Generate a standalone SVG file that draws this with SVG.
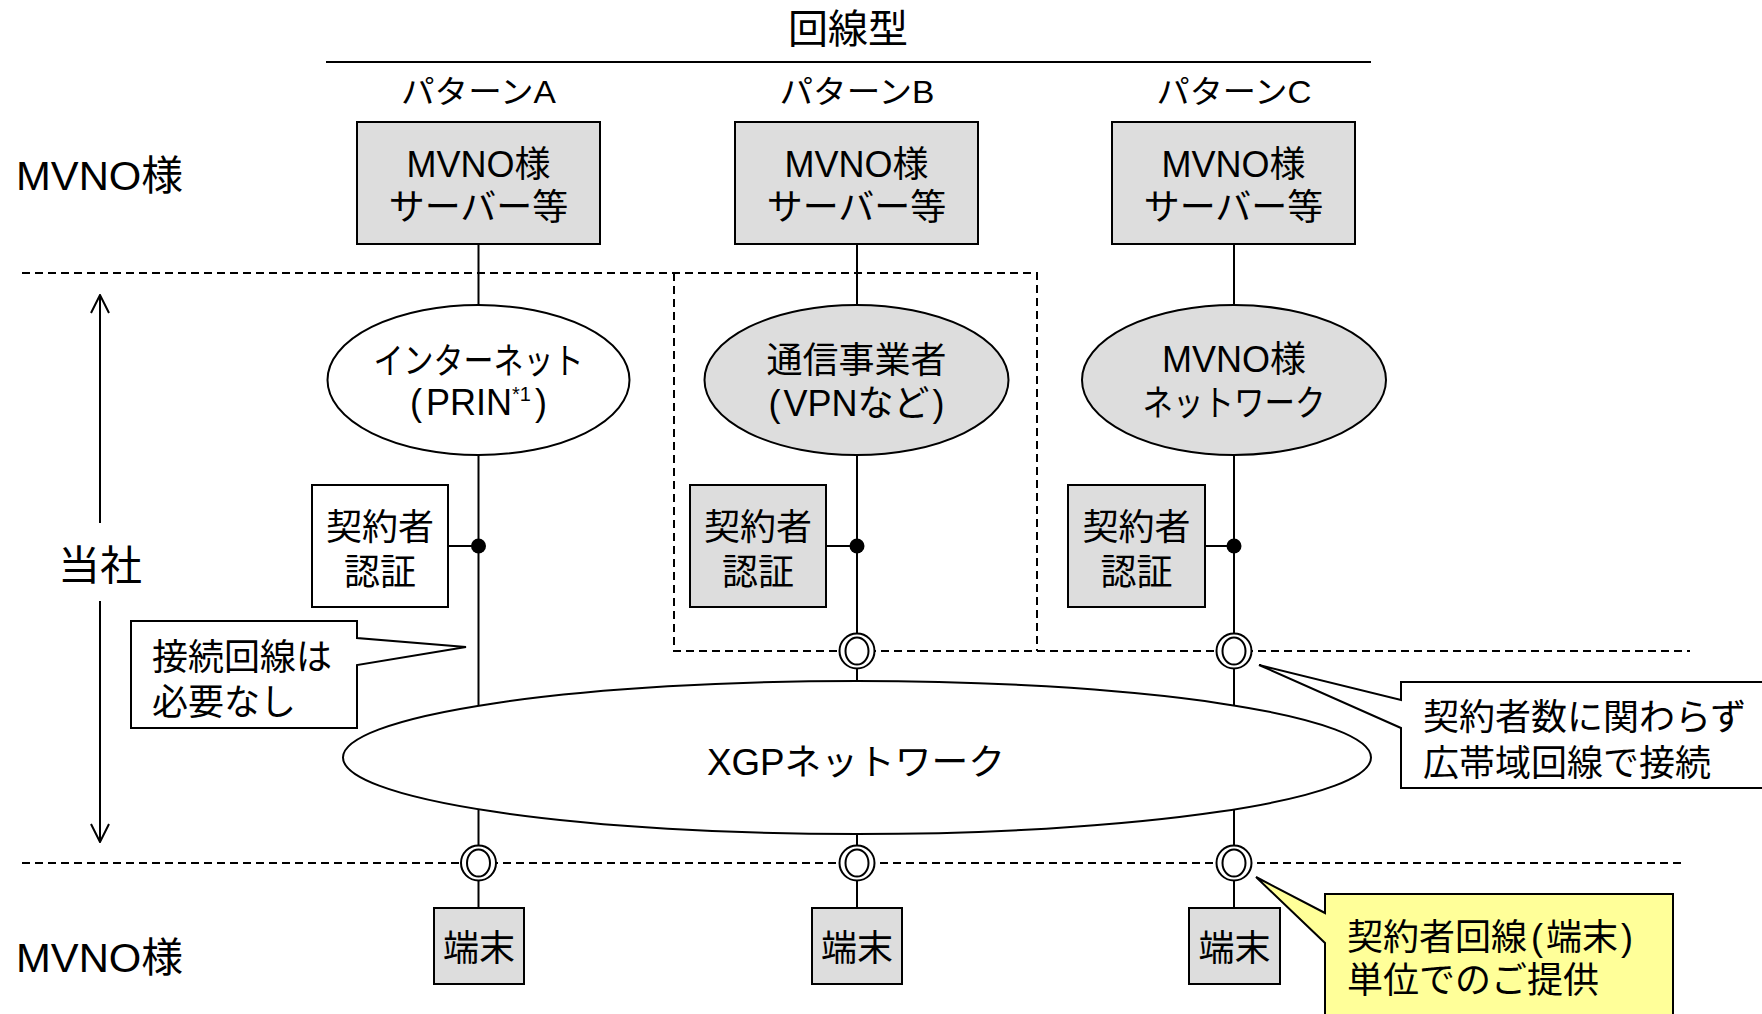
<svg xmlns="http://www.w3.org/2000/svg" width="1762" height="1014" viewBox="0 0 1762 1014">
<defs>
<style>
text{font-family:"Liberation Sans","Noto Sans CJK JP",sans-serif;fill:#000;}
.t36{font-size:36px;}
.t32{font-size:32px;}
.t41{font-size:41px;}
.mid{text-anchor:middle;}
.box{fill:#dddddd;stroke:#000;stroke-width:2;}
.wbox{fill:#fff;stroke:#000;stroke-width:2;}
.ln{stroke:#000;stroke-width:2;fill:none;}
.dash{stroke:#000;stroke-width:2;fill:none;stroke-dasharray:8 5;}
.ybox{fill:#ffff99;stroke:#000;stroke-width:2;}
</style>
<marker id="arr" viewBox="0 0 20 20" refX="19" refY="10" markerWidth="20" markerHeight="20" markerUnits="userSpaceOnUse" orient="auto">
<path d="M1,1 L19,10 L1,19" fill="none" stroke="#000" stroke-width="2"/>
</marker>
<g id="port">
<circle r="17.5" fill="#fff" stroke="#000" stroke-width="2"/>
<ellipse rx="11.5" ry="13.5" fill="none" stroke="#000" stroke-width="2"/>
</g>
</defs>

<rect width="1762" height="1014" fill="#fff"/>

<g id="header">
<text class="mid" x="848" y="43" font-size="40">回線型</text>
<line class="ln" x1="326" y1="62" x2="1371" y2="62"/>
<text class="t32 mid" x="478.5" y="103" textLength="155" lengthAdjust="spacingAndGlyphs">パターンA</text>
<text class="t32 mid" x="857" y="103" textLength="155" lengthAdjust="spacingAndGlyphs">パターンB</text>
<text class="t32 mid" x="1234" y="103" textLength="155" lengthAdjust="spacingAndGlyphs">パターンC</text>
</g>

<g id="side-labels">
<text class="t41" x="16" y="190" textLength="167" lengthAdjust="spacingAndGlyphs">MVNO様</text>
<text class="t41" x="58" y="580" textLength="84" lengthAdjust="spacingAndGlyphs">当社</text>
<text class="t41" x="16" y="972" textLength="167" lengthAdjust="spacingAndGlyphs">MVNO様</text>
<line class="ln" x1="100" y1="523" x2="100" y2="295" marker-end="url(#arr)"/>
<line class="ln" x1="100" y1="601" x2="100" y2="842" marker-end="url(#arr)"/>
</g>

<g id="boundaries">
<path class="dash" d="M22,273 H1037 V651"/>
<path class="dash" d="M674,273 V651 H1690"/>
<line class="dash" x1="22" y1="863" x2="1686" y2="863"/>
</g>

<g id="connectors">
<line class="ln" x1="478.5" y1="244" x2="478.5" y2="305"/>
<line class="ln" x1="478.5" y1="455" x2="478.5" y2="710"/>
<line class="ln" x1="448" y1="546" x2="478.5" y2="546"/>
<circle cx="478.5" cy="546" r="7.5" fill="#000"/>
<line class="ln" x1="857" y1="244" x2="857" y2="305"/>
<line class="ln" x1="857" y1="455" x2="857" y2="690"/>
<line class="ln" x1="826" y1="546" x2="857" y2="546"/>
<circle cx="857" cy="546" r="7.5" fill="#000"/>
<line class="ln" x1="1234" y1="244" x2="1234" y2="305"/>
<line class="ln" x1="1234" y1="455" x2="1234" y2="710"/>
<line class="ln" x1="1205" y1="546" x2="1234" y2="546"/>
<circle cx="1234" cy="546" r="7.5" fill="#000"/>
<line class="ln" x1="478.5" y1="800" x2="478.5" y2="908"/>
<line class="ln" x1="857" y1="825" x2="857" y2="908"/>
<line class="ln" x1="1234" y1="800" x2="1234" y2="908"/>
</g>

<g id="server-a">
<rect class="box" x="357" y="122" width="243" height="122"/>
<text class="t36 mid" x="478.5" y="177">MVNO様</text>
<text class="t36 mid" x="478.5" y="220">サーバー等</text>
</g>
<g id="server-b">
<rect class="box" x="735" y="122" width="243" height="122"/>
<text class="t36 mid" x="856.5" y="177">MVNO様</text>
<text class="t36 mid" x="856.5" y="220">サーバー等</text>
</g>
<g id="server-c">
<rect class="box" x="1112" y="122" width="243" height="122"/>
<text class="t36 mid" x="1233.5" y="177">MVNO様</text>
<text class="t36 mid" x="1233.5" y="220">サーバー等</text>
</g>

<g id="internet">
<ellipse class="wbox" cx="478.5" cy="380" rx="151" ry="75"/>
<text class="t36 mid" x="478.5" y="374" textLength="210" lengthAdjust="spacingAndGlyphs">インターネット</text>
<text class="t36 mid" x="478.5" y="415">(<tspan dx="4">PRIN</tspan><tspan font-size="20" dy="-14">*1</tspan><tspan dx="4" dy="14">)</tspan></text>
</g>
<g id="carrier">
<ellipse class="box" cx="856.5" cy="380" rx="152" ry="75"/>
<text class="t36 mid" x="856.5" y="373">通信事業者</text>
<text class="t36 mid" x="856.5" y="416">(<tspan dx="3">VPNなど</tspan><tspan dx="3">)</tspan></text>
</g>
<g id="mvno-network">
<ellipse class="box" cx="1234" cy="380" rx="152" ry="75"/>
<text class="t36 mid" x="1234" y="372">MVNO様</text>
<text class="t36 mid" x="1234" y="416" textLength="183" lengthAdjust="spacingAndGlyphs">ネットワーク</text>
</g>

<g id="auth-a">
<rect class="wbox" x="312" y="485" width="136" height="122"/>
<text class="t36 mid" x="380" y="540">契約者</text>
<text class="t36 mid" x="380" y="585">認証</text>
</g>
<g id="auth-b">
<rect class="box" x="690" y="485" width="136" height="122"/>
<text class="t36 mid" x="758" y="540">契約者</text>
<text class="t36 mid" x="758" y="585">認証</text>
</g>
<g id="auth-c">
<rect class="box" x="1068" y="485" width="137" height="122"/>
<text class="t36 mid" x="1136.5" y="540">契約者</text>
<text class="t36 mid" x="1136.5" y="585">認証</text>
</g>

<g id="xgp">
<ellipse class="wbox" cx="857" cy="757.5" rx="514" ry="76.5"/>
<text class="t36 mid" x="856" y="775" textLength="298" lengthAdjust="spacingAndGlyphs">XGPネットワーク</text>
</g>

<g id="ports">
<use href="#port" x="857" y="651"/>
<use href="#port" x="1234" y="651"/>
<use href="#port" x="478.5" y="863"/>
<use href="#port" x="857" y="863"/>
<use href="#port" x="1234" y="863"/>
</g>

<g id="terminal-a">
<rect class="box" x="434" y="908" width="90" height="76"/>
<text class="t36 mid" x="479" y="961">端末</text>
</g>
<g id="terminal-b">
<rect class="box" x="812" y="908" width="90" height="76"/>
<text class="t36 mid" x="857" y="961">端末</text>
</g>
<g id="terminal-c">
<rect class="box" x="1189" y="908" width="91" height="76"/>
<text class="t36 mid" x="1234.5" y="961">端末</text>
</g>

<g id="callout-no-line">
<path class="wbox" d="M131,621 H357 V638 L466,647 L357,665 V728 H131 Z"/>
<text class="t36" x="152" y="670">接続回線は</text>
<text class="t36" x="152" y="715">必要なし</text>
</g>

<g id="callout-broadband">
<path class="wbox" d="M1401,682 H1775 V788 H1401 V728 L1259,665 L1401,700 Z"/>
<text class="t36" x="1423" y="730">契約者数に関わらず</text>
<text class="t36" x="1423" y="776">広帯域回線で接続</text>
</g>

<g id="callout-per-line">
<path class="ybox" d="M1325,894 H1673 V1025 H1325 V943 L1256,877 L1325,913 Z"/>
<text class="t36" x="1347" y="950">契約者回線<tspan dx="4">(</tspan><tspan dx="3">端末</tspan><tspan dx="3">)</tspan></text>
<text class="t36" x="1347" y="993">単位でのご提供</text>
</g>
</svg>
